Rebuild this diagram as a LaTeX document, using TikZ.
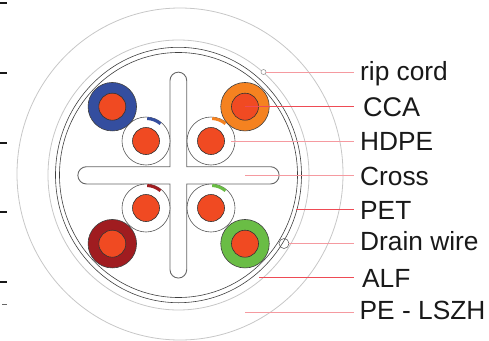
\documentclass[tikz,border=0pt]{standalone}
\usepackage{fontspec}
\setmainfont{Liberation Sans}
\definecolor{coreR}{HTML}{F04A22}
\definecolor{blueC}{HTML}{344E9F}
\definecolor{orangeC}{HTML}{F58220}
\definecolor{redC}{HTML}{A01C20}
\definecolor{greenC}{HTML}{6ABD45}
\definecolor{leadA}{HTML}{EE4B55}
\definecolor{leadB}{HTML}{F59AA0}
\tikzset{
  x=1pt,y=-1pt,
  lbl/.style={font=\fontsize{26.3}{28}\selectfont,anchor=base west,inner sep=0pt,text=black!90},
  jacket/.style={draw=black!22,line width=0.8pt},
  shield/.style={draw=black!75,line width=0.6pt},
  crossbar/.style={draw=black!60,line width=0.9pt,fill=white},
  sheath/.style={draw=black!75,line width=0.6pt,circle,minimum size=48.5pt,inner sep=0pt},
  hdpe/.style={draw=black!65,line width=0.6pt,circle,fill=white,minimum size=48pt,inner sep=0pt},
  core/.style={draw=black!80,line width=0.6pt,circle,fill=coreR,minimum size=27pt,inner sep=0pt},
  leadstrong/.style={draw=leadA,line width=0.9pt},
  leadlight/.style={draw=leadB,line width=1pt},
  tick/.style={draw=black!90,line width=2pt},
  stripe/.style={line width=3pt},
}
\begin{document}
\begin{tikzpicture}
\useasboundingbox (0,0) rectangle (489,340);
% left ticks
\foreach \y/\n in {3/a,73/b,143/c,212/d,282/e}{
  \coordinate (t\n0) at (0,\y); \coordinate (t\n1) at (7,\y);
  \draw[tick] (t\n0) -- (t\n1);
}
\coordinate (tf0) at (2,304); \coordinate (tf1) at (7,304);
\draw[draw=black!60,line width=0.8pt] (tf0) -- (tf1);
% jackets
\draw[jacket] (180,174) ellipse [x radius=163,y radius=166];
\draw[jacket] (178.5,175) ellipse [x radius=130.5,y radius=135];
\draw[shield] (178.5,175) ellipse [x radius=123,y radius=127.7];
\draw[shield] (178.5,175) ellipse [x radius=119,y radius=122.5];
% cross
\draw[crossbar] (170,166.7) -- (170,80.5) arc[start angle=180,end angle=360,radius=8.35] -- (186.7,166.7)
  -- (270.5,166.7) arc[start angle=-90,end angle=90,radius=8.65] -- (186.7,184)
  -- (186.7,269.7) arc[start angle=0,end angle=180,radius=8.35] -- (170,184)
  -- (86.5,184) arc[start angle=90,end angle=270,radius=8.65] -- cycle;
% HDPE insulated pairs
\node[hdpe] (h1) at (146,141) {};
\node[hdpe] (h2) at (211,141) {};
\node[hdpe] (h3) at (146,208) {};
\node[hdpe] (h4) at (211,208) {};
\node[core] (c1) at (146,141) {};
\node[core] (c2) at (211,141) {};
\node[core] (c3) at (146,208) {};
\node[core] (c4) at (211,208) {};
\draw[stripe,blueC]   (147.2,118.5) arc[start angle=-87,end angle=-50,radius=22.5];
\draw[stripe,orangeC] (212.2,118.5) arc[start angle=-87,end angle=-50,radius=22.5];
\draw[stripe,redC]    (147.2,185.5) arc[start angle=-87,end angle=-50,radius=22.5];
\draw[stripe,greenC]  (212.2,185.5) arc[start angle=-87,end angle=-50,radius=22.5];
% CCA conductors
\node[sheath,fill=blueC]   (s1) at (112.3,106.7) {};
\node[sheath,fill=orangeC] (s2) at (245,106.7) {};
\node[sheath,fill=redC]    (s3) at (112.3,243.7) {};
\node[sheath,fill=greenC]  (s4) at (245,243.7) {};
\node[core] (k1) at (112.3,106.7) {};
\node[core] (k2) at (245,106.7) {};
\node[core] (k3) at (112.3,243.7) {};
\node[core] (k4) at (245,243.7) {};
% rip cord and drain wire
\node[circle,draw=black!45,fill=white,line width=0.5pt,minimum size=5pt,inner sep=0pt] (rip) at (263.5,72) {};
\node[circle,draw=black!70,line width=0.5pt,minimum size=10pt,inner sep=0pt] (drain) at (284,243.5) {};
% labels
\node[lbl] (lrip) at (360,80.5) {rip cord};
\node[lbl,font=\fontsize{27}{28}\selectfont] (lcca) at (363,116) {CCA};
\node[lbl] (lhdpe) at (360,150.5) {HDPE};
\node[lbl] (lcross) at (360,185) {Cross};
\node[lbl] (lpet) at (360,219) {PET};
\node[lbl] (ldrain) at (360,250) {Drain wire};
\node[lbl] (lalf) at (362,287) {ALF};
\node[lbl] (lpe) at (359.5,319.5) {PE - LSZH};
% leaders
\coordinate (ecca) at (245,106.7);
\coordinate (ehdpe) at (231,141);
\coordinate (ecross) at (245,175);
\coordinate (epet) at (296,209.3);
\coordinate (ealf) at (259,277.3);
\coordinate (epe) at (245,312);
\coordinate (xrip) at (354,72);
\coordinate (xcca) at (354,106.7);
\coordinate (xhdpe) at (354,141);
\coordinate (xcross) at (354,175);
\coordinate (xpet) at (354,209.3);
\coordinate (xdrain) at (354,243.5);
\coordinate (xalf) at (354,277.3);
\coordinate (xpe) at (354,312);
\draw[leadlight] (rip) -- (xrip);
\draw[leadstrong] (ecca) -- (xcca);
\draw[leadlight] (ehdpe) -- (xhdpe);
\draw[leadlight] (ecross) -- (xcross);
\draw[leadstrong] (epet) -- (xpet);
\draw[leadlight] (drain) -- (xdrain);
\draw[leadstrong] (ealf) -- (xalf);
\draw[leadlight] (epe) -- (xpe);
\end{tikzpicture}
\end{document}
